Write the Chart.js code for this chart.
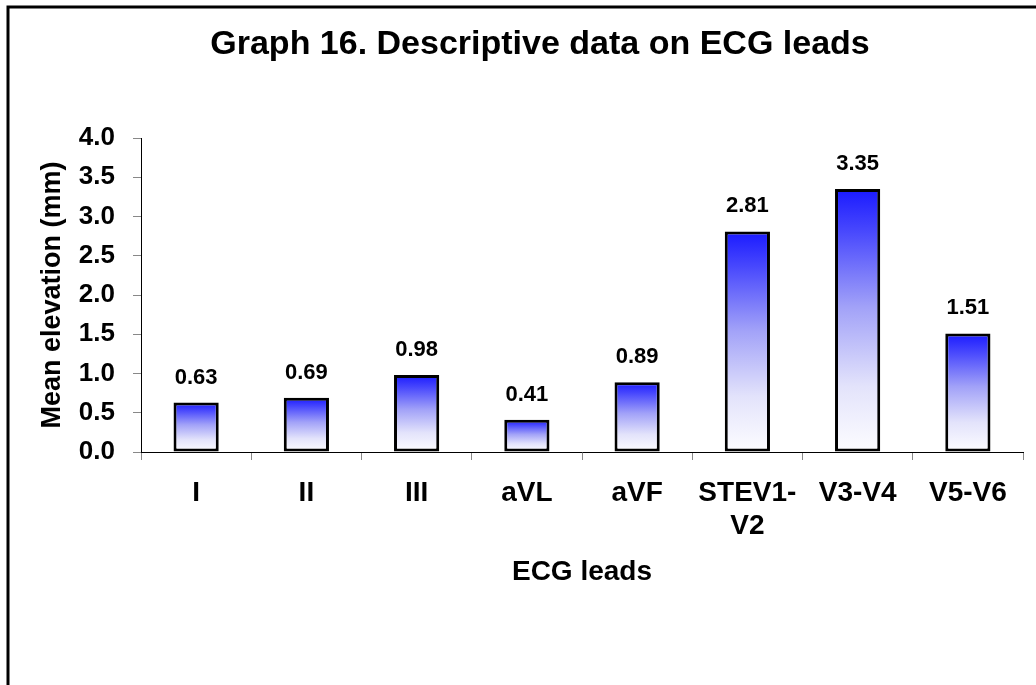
<!DOCTYPE html>
<html>
<head>
<meta charset="utf-8">
<script src="https://cdn.jsdelivr.net/npm/chart.js@4/dist/chart.umd.min.js"></script>
<style>
  body { margin: 0; background: #fff; }
  #wrap { width: 1036px; height: 685px; }
</style>
</head>
<body>
<div id="wrap"><canvas id="grafico" width="1036" height="685"></canvas></div>
<script>
const leads = ["I", "II", "III", "aVL", "aVF", ["STEV1-", "V2"], "V3-V4", "V5-V6"];
const elevation = [0.63, 0.69, 0.98, 0.41, 0.89, 2.81, 3.35, 1.51];
const yTicks = [0, 0.5, 1, 1.5, 2, 2.5, 3, 3.5, 4];
const titleText = "Graph 16. Descriptive data on ECG leads";

const fonte = "Arial, 'Liberation Sans', sans-serif";
Chart.defaults.font.family = fonte;
Chart.defaults.font.weight = "bold";
Chart.defaults.color = "#000";

// gradient per bar: deep blue on top fading to white at the base
function barGradient(ctx) {
  const chart = ctx.chart;
  if (!chart.chartArea || ctx.type !== "data") return "#6060ff";
  const y = chart.scales.y;
  const top = y.getPixelForValue(ctx.raw);
  const base = y.getPixelForValue(0);
  const g = chart.ctx.createLinearGradient(0, top, 0, base);
  g.addColorStop(0, "#1a1aff");
  g.addColorStop(0.15, "#4545fd");
  g.addColorStop(0.45, "#a2a2f8");
  g.addColorStop(0.75, "#e3e3fb");
  g.addColorStop(1, "#fdfdff");
  return g;
}

const moldura = {
  id: "moldura",
  beforeDraw(chart) {
    const c = chart.ctx;
    c.save();
    c.fillStyle = "#fff";
    c.fillRect(0, 0, chart.width, chart.height);
    c.restore();
  },
  afterDatasetsDraw(chart) {
    const c = chart.ctx;
    const meta = chart.getDatasetMeta(0);
    c.save();
    c.font = "bold 22px " + fonte;
    c.fillStyle = "#000";
    c.textAlign = "center";
    c.textBaseline = "alphabetic";
    meta.data.forEach((bar, i) => {
      c.fillText(elevation[i].toFixed(2), bar.x, bar.y - 19);
    });
    c.restore();
  },
  afterDraw(chart) {
    const c = chart.ctx;
    c.save();
    c.font = "bold 34px " + fonte;
    c.fillStyle = "#000";
    c.textAlign = "center";
    c.textBaseline = "middle";
    c.fillText(titleText, 540, 45);
    c.lineWidth = 3;
    c.strokeStyle = "#000";
    c.beginPath();
    c.moveTo(8, chart.height);
    c.lineTo(8, 7);
    c.lineTo(chart.width, 7);
    c.stroke();
    c.restore();
  }
};

new Chart(document.getElementById("grafico"), {
  type: "bar",
  data: {
    labels: leads,
    datasets: [{
      data: elevation,
      backgroundColor: barGradient,
      borderColor: "#000",
      borderWidth: 3,
      borderSkipped: false,
      barPercentage: 0.41,
      categoryPercentage: 1
    }]
  },
  options: {
    responsive: false,
    animation: false,
    layout: { padding: { top: 138, right: 13, left: 0, bottom: 0 } },
    plugins: {
      legend: { display: false },
      tooltip: { enabled: false },
      title: { display: false }
    },
    scales: {
      x: {
        grid: { display: true, drawOnChartArea: false, drawTicks: true, tickLength: 8, color: "#888", offset: true },
        border: { display: true, color: "#000", width: 1 },
        ticks: { padding: 16, font: { size: 28 }, maxRotation: 0, autoSkip: false, color: "#000" },
        title: { display: true, text: "ECG leads", font: { size: 28 }, padding: { top: 0, bottom: 96 }, color: "#000" },
        afterFit(s) { s.height = 233; }
      },
      y: {
        min: 0,
        max: 4,
        grid: { display: true, drawOnChartArea: false, drawTicks: true, tickLength: 8, color: "#888" },
        border: { display: true, color: "#000", width: 1 },
        ticks: { padding: 18, font: { size: 26 }, color: "#000", callback: v => Number(v).toFixed(1) },
        afterBuildTicks(s) { s.ticks = yTicks.map(v => ({ value: v })); },
        title: { display: true, text: "Mean elevation (mm)", font: { size: 27 }, padding: { top: 36, bottom: 0 }, color: "#000" },
        afterFit(s) { s.width = 141; }
      }
    }
  },
  plugins: [moldura]
});
</script>
</body>
</html>
